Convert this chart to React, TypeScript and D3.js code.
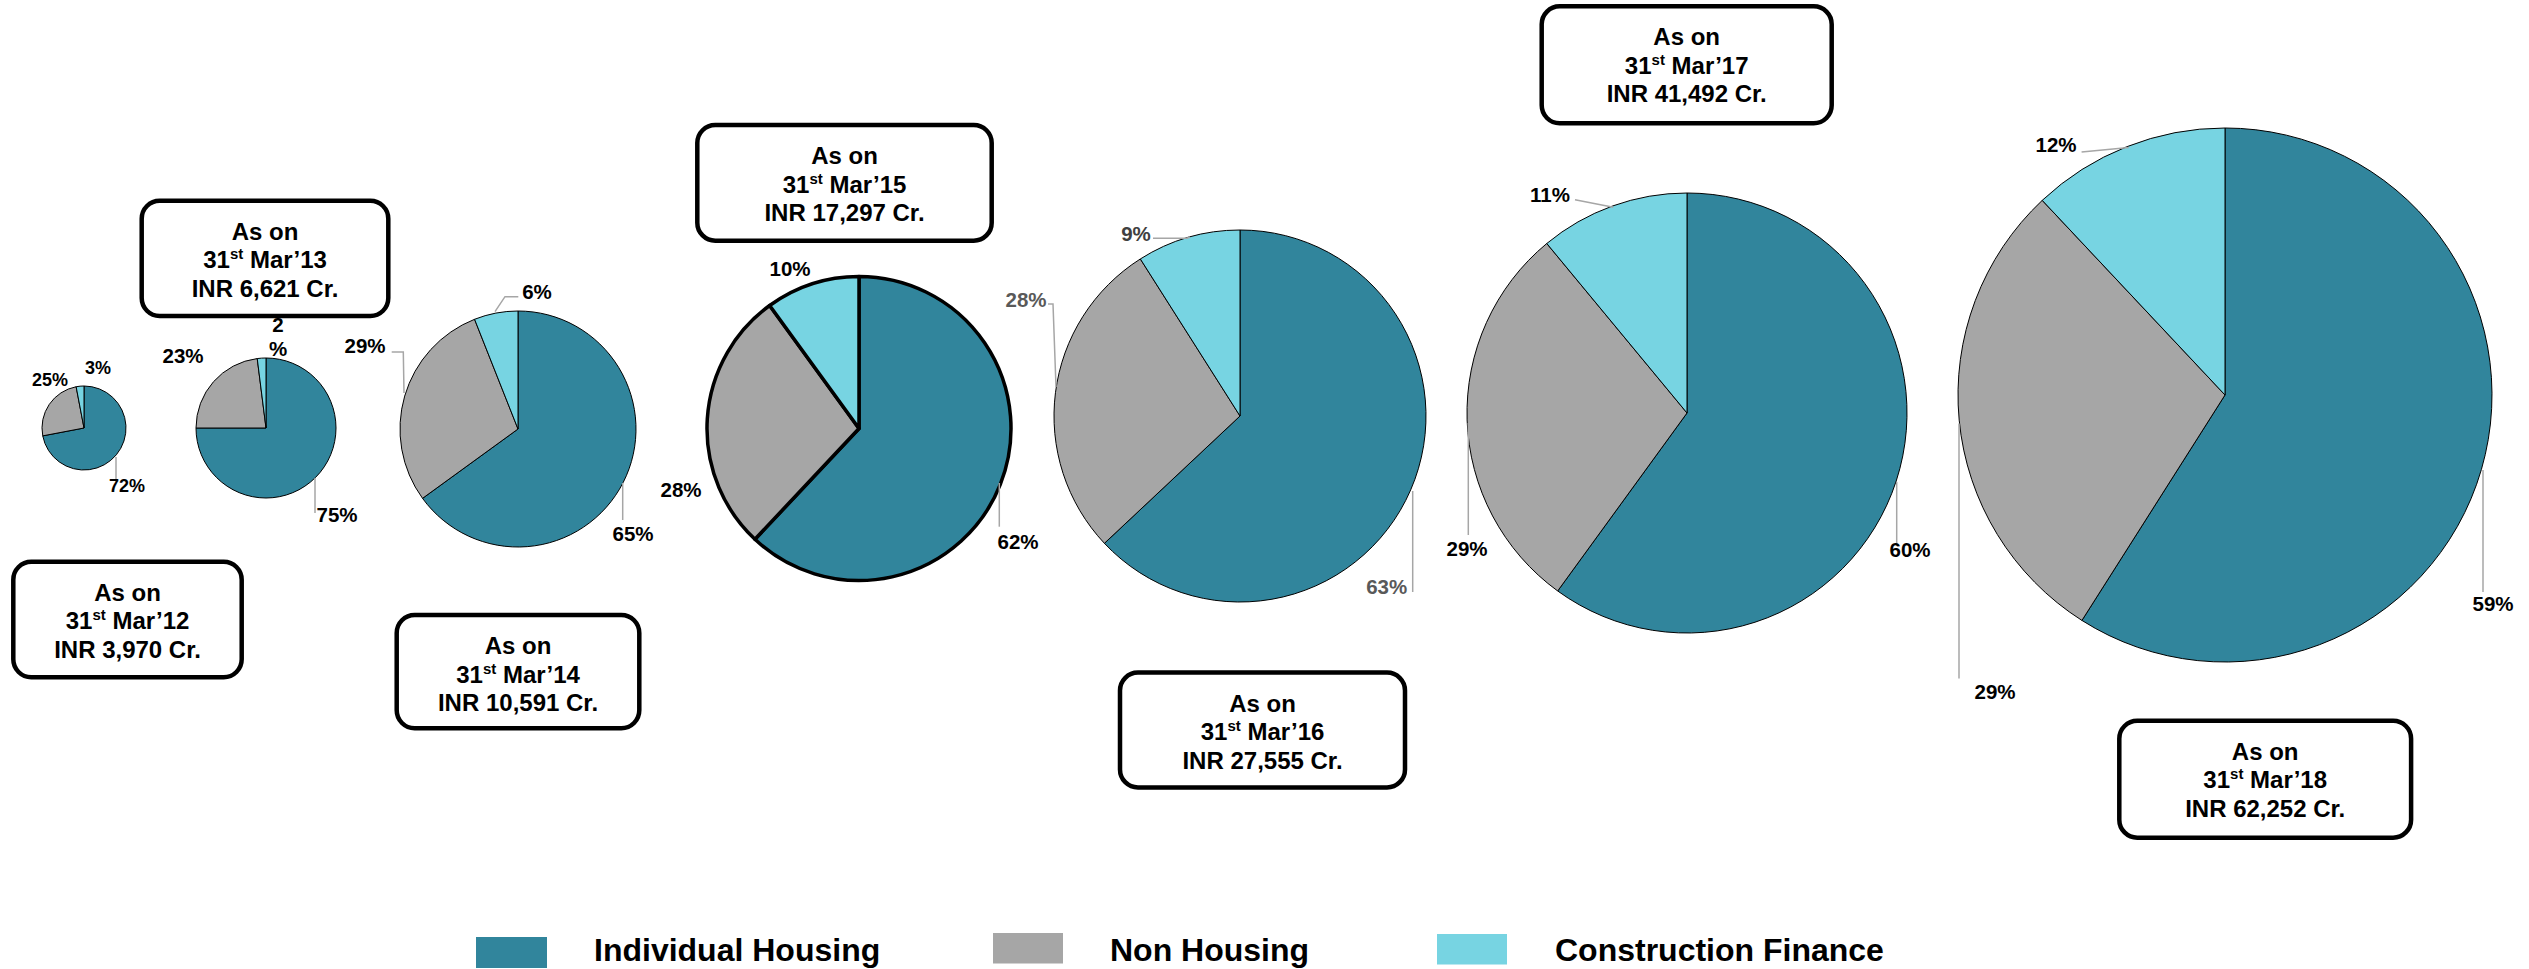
import React from "react";
import * as d3 from "d3";

// ---------- data ----------
const years = ["12", "13", "14", "15", "16", "17", "18"];
const totals = ["3,970", "6,621", "10,591", "17,297", "27,555", "41,492", "62,252"];
const categories = ["Individual Housing", "Non Housing", "Construction Finance"];
const individualHousing = [72, 75, 65, 62, 63, 60, 59];
const nonHousing = [25, 23, 29, 28, 28, 29, 29];
const constructionFinance = [3, 2, 6, 10, 9, 11, 12];

// ---------- styles / layout ----------
const colors = ["#31859C", "#A6A6A6", "#77D4E2"];
const FONT = "'Liberation Sans', Arial, Helvetica, sans-serif";

const pieLayout = [
  { cx: 84, cy: 428, r: 42, sw: 1, fs: 18 },
  { cx: 266, cy: 428, r: 70, sw: 1, fs: 20.5 },
  { cx: 518, cy: 429, r: 118, sw: 1, fs: 20.5 },
  { cx: 859, cy: 428.5, r: 152, sw: 3.5, fs: 20.5 },
  { cx: 1240, cy: 416, r: 186, sw: 1, fs: 20.5 },
  { cx: 1687, cy: 413, r: 220, sw: 1, fs: 20.5 },
  { cx: 2225, cy: 395, r: 267, sw: 1, fs: 20.5 },
];

type LabelPos = { x: number; y: number; leader?: [number, number][]; color?: string; split?: boolean };
// label placement per pie, order: Individual, Non Housing, Construction
const labelLayout: LabelPos[][] = [
  [
    { x: 127, y: 486, leader: [[116, 457], [116, 482]] },
    { x: 50, y: 380 },
    { x: 98, y: 368 },
  ],
  [
    { x: 337, y: 515, leader: [[315, 478], [315, 513]] },
    { x: 183, y: 356 },
    { x: 278, y: 337, split: true },
  ],
  [
    { x: 633, y: 534, leader: [[622.7, 483], [622.7, 520]] },
    { x: 365, y: 345.5, leader: [[391.7, 352], [403.3, 352], [404, 393]] },
    { x: 537, y: 291.7, leader: [[495, 311.7], [505, 296.7], [518.3, 296.7]] },
  ],
  [
    { x: 1018, y: 541.7, leader: [[999.3, 483], [999.3, 526.7]] },
    { x: 681, y: 490 },
    { x: 790, y: 269.3 },
  ],
  [
    { x: 1386.7, y: 587.3, leader: [[1412.7, 491], [1412.7, 592]], color: "#595959" },
    { x: 1026, y: 300, leader: [[1048, 304], [1053, 304], [1056, 387]], color: "#595959" },
    { x: 1136, y: 233.7, leader: [[1153, 238.3], [1187, 238.3], [1190, 237]], color: "#404040" },
  ],
  [
    { x: 1910, y: 550, leader: [[1896.7, 482], [1896.7, 545.7]] },
    { x: 1467, y: 549, leader: [[1468.3, 423], [1468.3, 535]] },
    { x: 1550, y: 194.6, leader: [[1575, 199.7], [1613.3, 207.3]] },
  ],
  [
    { x: 2493, y: 604, leader: [[2483, 470], [2483, 592]] },
    { x: 1995, y: 692, leader: [[1959, 423.5], [1959, 678.5]] },
    { x: 2056, y: 145, leader: [[2081.6, 152], [2128.7, 147.4]] },
  ],
];

const boxLayout = [
  { x: 13.3, y: 561.7, w: 228.4, h: 115.6 },
  { x: 141.7, y: 200.7, w: 246.6, h: 115.3 },
  { x: 396.7, y: 615, w: 242.6, h: 113.3 },
  { x: 697.3, y: 125, w: 294.4, h: 115.7 },
  { x: 1120, y: 672.6, w: 285, h: 114.8 },
  { x: 1541.7, y: 6.3, w: 290, h: 117 },
  { x: 2119.3, y: 720.7, w: 291.8, h: 117 },
];

const legendLayout = [
  { sx: 476, sy: 937, sw: 71, sh: 31, tx: 594 },
  { sx: 993, sy: 933, sw: 70, sh: 30.5, tx: 1110 },
  { sx: 1437, sy: 934, sw: 70, sh: 30.5, tx: 1555 },
];

export default function App() {
  const pie = d3
    .pie<number>()
    .sort(null)
    .value((d) => d)
    .startAngle(0)
    .endAngle(2 * Math.PI);

  return (
    <svg
      width={2529}
      height={969}
      viewBox="0 0 2529 969"
      style={{ position: "absolute", left: 0, top: 0, background: "#fff" }}
      fontFamily={FONT}
    >
      <rect x={0} y={0} width={2529} height={969} fill="#fff" />
      {years.map((yr, i) => {
        const L = pieLayout[i];
        const vals = [individualHousing[i], nonHousing[i], constructionFinance[i]];
        const arcs = pie(vals);
        const arc = d3.arc<d3.PieArcDatum<number>>().innerRadius(0).outerRadius(L.r);
        return (
          <g key={"pie" + yr}>
            <g transform={`translate(${L.cx},${L.cy})`}>
              {arcs.map((a, j) => (
                <path
                  key={j}
                  d={arc(a) || ""}
                  fill={colors[j]}
                  stroke="#000"
                  strokeWidth={L.sw}
                  strokeLinejoin="round"
                />
              ))}
            </g>
            {labelLayout[i].map((lab, j) => {
              const txt = vals[j] + "%";
              const col = lab.color || "#000";
              return (
                <g key={"lab" + j}>
                  {lab.leader && (
                    <polyline
                      points={lab.leader.map((p) => p.join(",")).join(" ")}
                      fill="none"
                      stroke="#A6A6A6"
                      strokeWidth={1.5}
                    />
                  )}
                  {lab.split ? (
                    <text
                      x={lab.x}
                      textAnchor="middle"
                      fontWeight="bold"
                      fontSize={L.fs}
                      fill={col}
                    >
                      <tspan x={lab.x} y={lab.y - 12 + L.fs * 0.35}>
                        {String(vals[j])}
                      </tspan>
                      <tspan x={lab.x} y={lab.y + 12 + L.fs * 0.35}>
                        %
                      </tspan>
                    </text>
                  ) : (
                    <text
                      x={lab.x}
                      y={lab.y + L.fs * 0.35}
                      textAnchor="middle"
                      fontWeight="bold"
                      fontSize={L.fs}
                      fill={col}
                    >
                      {txt}
                    </text>
                  )}
                </g>
              );
            })}
          </g>
        );
      })}

      {years.map((yr, i) => {
        const B = boxLayout[i];
        const mx = B.x + B.w / 2;
        return (
          <g key={"box" + yr}>
            <rect
              x={B.x}
              y={B.y}
              width={B.w}
              height={B.h}
              rx={18}
              ry={18}
              fill="#fff"
              stroke="#000"
              strokeWidth={4.5}
            />
            <text x={mx} y={B.y + 39} textAnchor="middle" fontWeight="bold" fontSize={24} fill="#000">
              As on
            </text>
            <text x={mx} y={B.y + 67.5} textAnchor="middle" fontWeight="bold" fontSize={24} fill="#000">
              <tspan>31</tspan>
              <tspan fontSize={15} dy={-9}>
                st
              </tspan>
              <tspan dy={9} fontSize={24}>
                {" Mar\u2019" + yr}
              </tspan>
            </text>
            <text x={mx} y={B.y + 96} textAnchor="middle" fontWeight="bold" fontSize={24} fill="#000">
              {"INR " + totals[i] + " Cr."}
            </text>
          </g>
        );
      })}

      {categories.map((c, i) => {
        const G = legendLayout[i];
        return (
          <g key={"leg" + i}>
            <rect x={G.sx} y={G.sy} width={G.sw} height={G.sh} fill={colors[i]} />
            <text x={G.tx} y={961} fontWeight="bold" fontSize={32} fill="#000">
              {c}
            </text>
          </g>
        );
      })}
    </svg>
  );
}
